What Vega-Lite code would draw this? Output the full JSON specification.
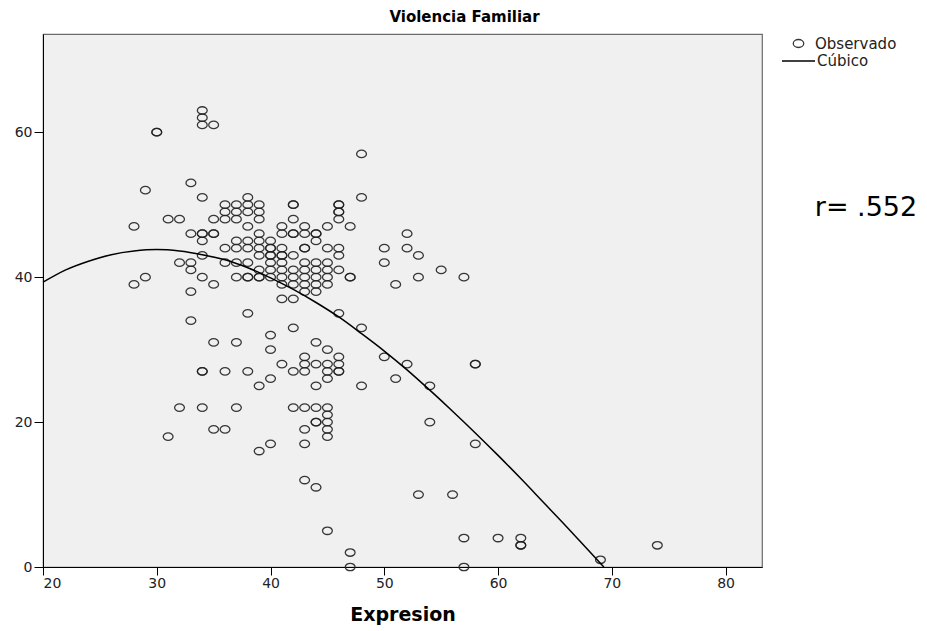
{
  "$schema": "https://vega.github.io/schema/vega-lite/v6.json",
  "width": 719,
  "height": 533,
  "autosize": {"type": "none"},
  "padding": {"left": 43, "top": 34, "right": 165, "bottom": 64},
  "background": "white",
  "title": {"text": "Violencia Familiar", "fontSize": 15, "fontWeight": "bold", "font": "DejaVu Sans", "color": "#000", "offset": 9, "anchor": "middle", "dx": 62},
  "datasets": {
    "obs": [
      {"x":28,"y":47},{"x":28,"y":39},
      {"x":29,"y":52},{"x":29,"y":40},
      {"x":30,"y":60},{"x":30,"y":60},
      {"x":31,"y":48},{"x":31,"y":18},
      {"x":32,"y":48},{"x":32,"y":42},{"x":32,"y":22},
      {"x":33,"y":53},{"x":33,"y":46},{"x":33,"y":42},{"x":33,"y":41},{"x":33,"y":38},{"x":33,"y":34},
      {"x":34,"y":63},{"x":34,"y":62},{"x":34,"y":61},{"x":34,"y":51},{"x":34,"y":46},{"x":34,"y":46},{"x":34,"y":45},{"x":34,"y":43},{"x":34,"y":40},{"x":34,"y":27},{"x":34,"y":27},{"x":34,"y":22},
      {"x":35,"y":61},{"x":35,"y":48},{"x":35,"y":46},{"x":35,"y":46},{"x":35,"y":39},{"x":35,"y":31},{"x":35,"y":19},
      {"x":36,"y":50},{"x":36,"y":49},{"x":36,"y":48},{"x":36,"y":44},{"x":36,"y":42},{"x":36,"y":27},{"x":36,"y":19},
      {"x":37,"y":50},{"x":37,"y":49},{"x":37,"y":48},{"x":37,"y":45},{"x":37,"y":44},{"x":37,"y":42},{"x":37,"y":40},{"x":37,"y":31},{"x":37,"y":22},
      {"x":38,"y":51},{"x":38,"y":50},{"x":38,"y":49},{"x":38,"y":47},{"x":38,"y":45},{"x":38,"y":44},{"x":38,"y":42},{"x":38,"y":40},{"x":38,"y":40},{"x":38,"y":35},{"x":38,"y":27},
      {"x":39,"y":50},{"x":39,"y":49},{"x":39,"y":48},{"x":39,"y":46},{"x":39,"y":45},{"x":39,"y":44},{"x":39,"y":43},{"x":39,"y":41},{"x":39,"y":40},{"x":39,"y":40},{"x":39,"y":25},{"x":39,"y":16},
      {"x":40,"y":45},{"x":40,"y":44},{"x":40,"y":44},{"x":40,"y":43},{"x":40,"y":43},{"x":40,"y":42},{"x":40,"y":41},{"x":40,"y":40},{"x":40,"y":32},{"x":40,"y":30},{"x":40,"y":26},{"x":40,"y":17},
      {"x":41,"y":47},{"x":41,"y":46},{"x":41,"y":44},{"x":41,"y":43},{"x":41,"y":43},{"x":41,"y":42},{"x":41,"y":41},{"x":41,"y":40},{"x":41,"y":39},{"x":41,"y":37},{"x":41,"y":28},
      {"x":42,"y":50},{"x":42,"y":50},{"x":42,"y":48},{"x":42,"y":46},{"x":42,"y":46},{"x":42,"y":43},{"x":42,"y":41},{"x":42,"y":40},{"x":42,"y":39},{"x":42,"y":37},{"x":42,"y":33},{"x":42,"y":27},{"x":42,"y":22},
      {"x":43,"y":47},{"x":43,"y":46},{"x":43,"y":44},{"x":43,"y":44},{"x":43,"y":42},{"x":43,"y":41},{"x":43,"y":40},{"x":43,"y":39},{"x":43,"y":38},{"x":43,"y":29},{"x":43,"y":28},{"x":43,"y":27},{"x":43,"y":22},{"x":43,"y":19},{"x":43,"y":17},{"x":43,"y":12},
      {"x":44,"y":46},{"x":44,"y":46},{"x":44,"y":45},{"x":44,"y":42},{"x":44,"y":41},{"x":44,"y":40},{"x":44,"y":39},{"x":44,"y":38},{"x":44,"y":31},{"x":44,"y":28},{"x":44,"y":25},{"x":44,"y":22},{"x":44,"y":20},{"x":44,"y":20},{"x":44,"y":11},
      {"x":45,"y":47},{"x":45,"y":44},{"x":45,"y":42},{"x":45,"y":41},{"x":45,"y":40},{"x":45,"y":39},{"x":45,"y":30},{"x":45,"y":28},{"x":45,"y":27},{"x":45,"y":26},{"x":45,"y":22},{"x":45,"y":21},{"x":45,"y":20},{"x":45,"y":19},{"x":45,"y":18},{"x":45,"y":5},
      {"x":46,"y":50},{"x":46,"y":50},{"x":46,"y":49},{"x":46,"y":49},{"x":46,"y":48},{"x":46,"y":44},{"x":46,"y":43},{"x":46,"y":41},{"x":46,"y":35},{"x":46,"y":29},{"x":46,"y":28},{"x":46,"y":27},{"x":46,"y":27},
      {"x":47,"y":47},{"x":47,"y":40},{"x":47,"y":40},{"x":47,"y":2},{"x":47,"y":0},
      {"x":48,"y":57},{"x":48,"y":51},{"x":48,"y":33},{"x":48,"y":25},
      {"x":50,"y":44},{"x":50,"y":42},{"x":50,"y":29},
      {"x":51,"y":39},{"x":51,"y":26},
      {"x":52,"y":46},{"x":52,"y":44},{"x":52,"y":28},
      {"x":53,"y":43},{"x":53,"y":40},{"x":53,"y":10},
      {"x":54,"y":25},{"x":54,"y":20},
      {"x":55,"y":41},
      {"x":56,"y":10},
      {"x":57,"y":40},{"x":57,"y":4},{"x":57,"y":0},
      {"x":58,"y":28},{"x":58,"y":28},{"x":58,"y":17},
      {"x":60,"y":4},
      {"x":62,"y":4},{"x":62,"y":3},{"x":62,"y":3},
      {"x":69,"y":1},
      {"x":74,"y":3}
    ],
    "fit": [
      {"x":20,"y":39.3},{"x":22,"y":41.0},{"x":24,"y":42.2},{"x":26,"y":43.1},{"x":28,"y":43.6},{"x":30,"y":43.8},
      {"x":32,"y":43.6},{"x":34,"y":43.1},{"x":36,"y":42.4},{"x":38,"y":41.3},{"x":40,"y":39.9},{"x":42,"y":38.3},
      {"x":44,"y":36.5},{"x":46,"y":34.5},{"x":48,"y":32.2},{"x":50,"y":29.8},{"x":52,"y":27.2},{"x":54,"y":24.4},
      {"x":56,"y":21.5},{"x":58,"y":18.5},{"x":60,"y":15.4},{"x":62,"y":12.2},{"x":64,"y":8.9},{"x":66,"y":5.6},
      {"x":68,"y":2.2},{"x":69.3,"y":0}
    ],
    "note": [{"x":87.84,"y":49.6,"label":"r= .552"}]
  },
  "encoding": {
    "x": {"field": "x", "type": "quantitative", "scale": {"domain": [20, 83.2], "nice": false, "zero": false},
      "axis": {"title": "Expresion", "values": [20,30,40,50,60,70,80], "grid": false, "tickSize": 8, "labelFontSize": 14, "labelColor": "#222", "labelPadding": 1, "domainColor": "#000", "tickColor": "#000", "titleFontSize": 19, "titleFontWeight": "bold", "titleColor": "#000", "titlePadding": 15}},
    "y": {"field": "y", "type": "quantitative", "scale": {"domain": [0, 73.55], "nice": false, "zero": false},
      "axis": {"title": null, "values": [0,20,40,60], "grid": false, "tickSize": 9, "labelFontSize": 14, "labelColor": "#222", "labelPadding": 2, "domainColor": "#000", "tickColor": "#000"}}
  },
  "layer": [
    {
      "data": {"name": "obs"},
      "mark": {"type": "point", "filled": false, "size": 96, "stroke": "#222", "strokeWidth": 1.3, "opacity": 0.9},
      "encoding": {
        "shape": {"datum": "Observado", "scale": {"domain": ["Observado"], "range": ["M-1,0A1,0.76,0,1,0,1,0A1,0.76,0,1,0,-1,0Z"]},
          "legend": {"orient": "none", "legendX": 748, "legendY": 2, "title": null, "labelFontSize": 15, "labelColor": "#222", "labelOffset": 9, "symbolSize": 110, "symbolStrokeColor": "#222", "symbolStrokeWidth": 1.3, "symbolFillColor": "transparent"}}
      }
    },
    {
      "data": {"name": "fit"},
      "mark": {"type": "line", "strokeWidth": 1.5, "interpolate": "monotone"},
      "encoding": {
        "color": {"datum": "Cúbico", "scale": {"domain": ["Cúbico"], "range": ["#000"]},
          "legend": {"orient": "none", "legendX": 738, "legendY": 9.5, "title": null, "labelFontSize": 15, "labelColor": "#222", "labelOffset": 1, "symbolType": "stroke", "symbolSize": 1089, "symbolStrokeWidth": 1.3}}
      }
    },
    {
      "data": {"name": "note"},
      "mark": {"type": "text", "align": "left", "baseline": "middle", "fontSize": 27, "font": "DejaVu Sans", "color": "#000"},
      "encoding": {"text": {"field": "label"}}
    }
  ],
  "config": {
    "font": "DejaVu Sans",
    "view": {"fill": "#f0f0f0", "stroke": "#6a6a6a", "strokeWidth": 1.2},
    "axis": {"labelFont": "DejaVu Sans", "titleFont": "DejaVu Sans"},
    "legend": {"labelFont": "DejaVu Sans"}
  }
}
